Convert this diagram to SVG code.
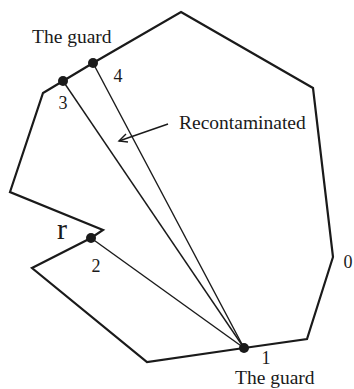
<svg xmlns="http://www.w3.org/2000/svg" width="354" height="389" viewBox="0 0 354 389">
<style>
.poly{fill:none;stroke:#1a1a1a;stroke-width:2.2;stroke-linejoin:miter}
.ray{stroke:#1a1a1a;stroke-width:1.4;fill:none}
.dot{fill:#1a1a1a}
text{font-family:"Liberation Serif","Times New Roman",serif;fill:#1a1a1a}
.lbl{font-size:19.5px}
.num{font-size:18px;text-anchor:middle}
</style>
<rect width="354" height="389" fill="#fff"/>
<polygon id="region" class="poly" points="181,12 313,88 333,257 307,339 244,348 147,362 32,268 91,238 103,230 10,192 43,93 63,81 93,63"/>
<g id="connectors">
<line class="ray" x1="244" y1="348" x2="91" y2="238"/>
<line class="ray" x1="244" y1="348" x2="63" y2="81"/>
<line class="ray" x1="244" y1="348" x2="93" y2="63"/>
<line class="ray" x1="168" y1="124" x2="119" y2="141"/>
<polyline class="ray" points="126,134 119,141 128,142"/>
</g>
<g id="p1"><circle class="dot" cx="244" cy="348" r="5"/><text class="num" x="266" y="364">1</text></g>
<g id="p2"><circle class="dot" cx="91" cy="238" r="5"/><text class="num" x="96" y="272">2</text></g>
<g id="p3"><circle class="dot" cx="63" cy="81" r="5"/><text class="num" x="63" y="109">3</text></g>
<g id="p4"><circle class="dot" cx="93" cy="63" r="5"/><text class="num" x="118" y="82">4</text></g>
<text class="lbl" x="32" y="43">The guard</text>
<text class="lbl" x="235" y="384">The guard</text>
<text class="lbl" x="179" y="129">Recontaminated</text>
<text x="57" y="239" style="font-size:30px">r</text>
<text class="num" x="348" y="268">0</text>
</svg>
